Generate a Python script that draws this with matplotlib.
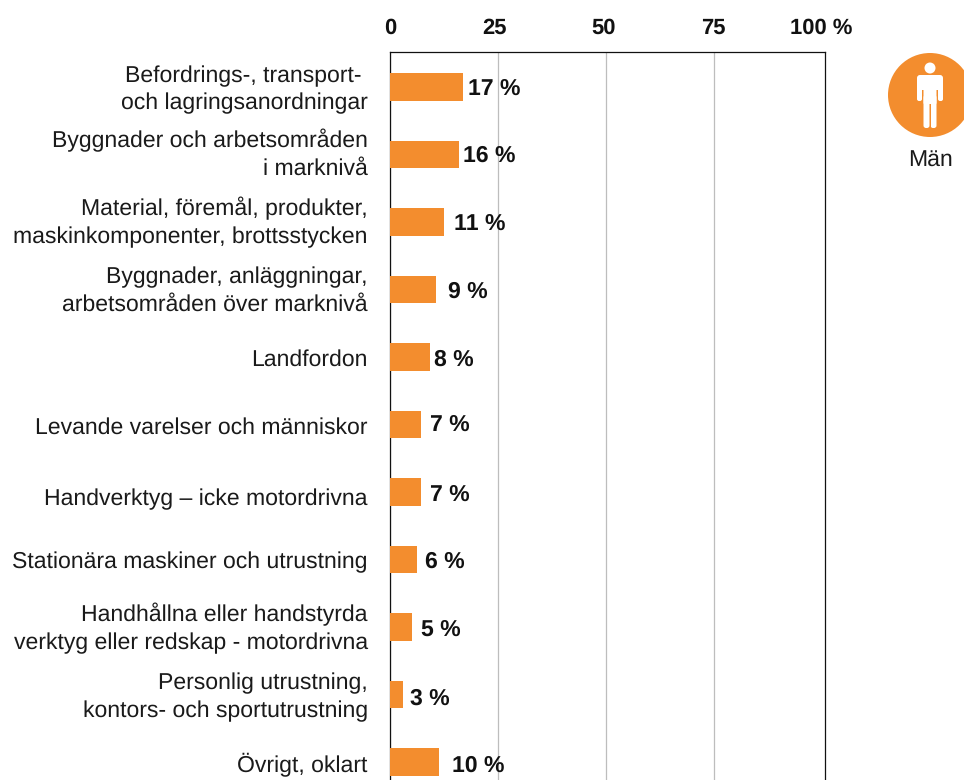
import matplotlib
matplotlib.use('Agg')
import matplotlib.pyplot as plt
from matplotlib.patches import Circle, FancyBboxPatch
from matplotlib.transforms import ScaledTranslation

plt.rcParams['font.family'] = ['Liberation Sans', 'DejaVu Sans']
plt.rcParams['text.hinting'] = 'no_hinting'
plt.rcParams['text.hinting_factor'] = 1

# Data
categories = [
    'Befordrings-, transport- \noch lagringsanordningar',
    'Byggnader och arbetsområden\ni marknivå',
    'Material, föremål, produkter,\nmaskinkomponenter, brottsstycken',
    'Byggnader, anläggningar,\narbetsområden över marknivå',
    'Landfordon',
    'Levande varelser och människor',
    'Handverktyg – icke motordrivna',
    'Stationära maskiner och utrustning',
    'Handhållna eller handstyrda\nverktyg eller redskap - motordrivna',
    'Personlig utrustning,\nkontors- och sportutrustning',
    'Övrigt, oklart',
]
bar_values = [16.9, 16.0, 12.5, 10.6, 9.3, 7.2, 7.2, 6.25, 5.1, 3.0, 11.4]
label_values = [17, 16, 11, 9, 8, 7, 7, 6, 5, 3, 10]
tick_values = [0, 25, 50, 75, 100]
tick_labels = ['0', '25', '50', '75', '100 %']

# layout nudges in pixels, the original is hand placed
label_gaps = [5, 4, 10, 12, 4, 9, 9, 8, 9, 7, 13]
label_drop = [-1, -1, -1, 0, 0, -2, 0, 0, 0, 2, 1]
cat_drop = [-6, -9, -8.5, -7.5, -2.5, -2.5, 1.5, -2.5, -7.5, -6, -2.5]
tick_shift = [0, -4, -2, -1, -1]

W, H = 964, 780
ORANGE = '#f38d2e'
TEXT = '#1a1a1a'

fig = plt.figure(figsize=(W / 100, H / 100), dpi=100)
ax = fig.add_axes([390 / W, 0, (825 - 390) / W, (H - 52) / H])

row_px = 67.5
ax.set_xlim(0, 100.7)
ax.set_ylim((780 - 87) / row_px, (52 - 87) / row_px)

rows = list(range(len(categories)))
ax.barh(rows, bar_values, height=27.5 / row_px, color=ORANGE, zorder=3)

ax.set_axisbelow(True)
ax.grid(axis='x', color='#bdbdbd', linewidth=0.9)
ax.xaxis.tick_top()
ax.set_xticks(tick_values)
ax.set_xticklabels(tick_labels, fontsize=16, fontweight='bold', color='#111111')
ax.tick_params(axis='x', length=0, pad=9.5)
ax.tick_params(axis='y', length=0, pad=16)
ax.set_yticks(rows)
ax.set_yticklabels(categories, fontsize=16.85, color=TEXT, linespacing=1.37)
ax.get_xgridlines()[-1].set_visible(False)

for lab, dx in zip(ax.get_xticklabels(), tick_shift):
    lab.set_transform(lab.get_transform() + ScaledTranslation(dx / 100, 0, fig.dpi_scale_trans))
for lab, dy in zip(ax.get_yticklabels(), cat_drop):
    lab.set_transform(lab.get_transform() + ScaledTranslation(0, -(dy + 3.2) / 100, fig.dpi_scale_trans))

for spine in ['top', 'left', 'right']:
    ax.spines[spine].set_linewidth(0.9)
    ax.spines[spine].set_color('#111111')
ax.spines['bottom'].set_visible(False)

for r, v, lab, gap, drop in zip(rows, bar_values, label_values, label_gaps, label_drop):
    ax.annotate(f'{lab} %', (v, r), xytext=(gap * 0.72, -1.8 - drop * 0.72), textcoords='offset points',
                ha='left', va='center', fontsize=16.7, fontweight='bold', color='#111111',
                zorder=4)

# Icon in pixel coordinates
ic = fig.add_axes([0, 0, 1, 1], facecolor='none')
ic.set_xlim(0, W)
ic.set_ylim(H, 0)
ic.axis('off')
ic.add_patch(Circle((930, 95), 42, color=ORANGE, lw=0))
ic.add_patch(Circle((930, 68), 5.5, color='white', lw=0))


def white_box(x0, y0, x1, y1, r):
    ic.add_patch(FancyBboxPatch((x0 + r, y0 + r), x1 - x0 - 2 * r, y1 - y0 - 2 * r,
                                boxstyle=f'round,pad={r},rounding_size={r}', fc='white', lw=0))


white_box(917, 75, 943, 90, 3)      # shoulders
white_box(917, 80, 922, 101, 2)     # arms
white_box(938, 80, 943, 101, 2)
white_box(923.5, 78, 936.5, 104, 1)  # torso
white_box(923.5, 95, 929.5, 128, 2.5)  # legs
white_box(930.5, 95, 936.5, 128, 2.5)
ic.add_patch(plt.Rectangle((929.5, 104), 1, 24, fc=ORANGE, lw=0))
ic.text(930, 160.5, 'Män', ha='center', va='center', fontsize=16.6, color=TEXT)

fig.savefig('out.png', dpi=100)
